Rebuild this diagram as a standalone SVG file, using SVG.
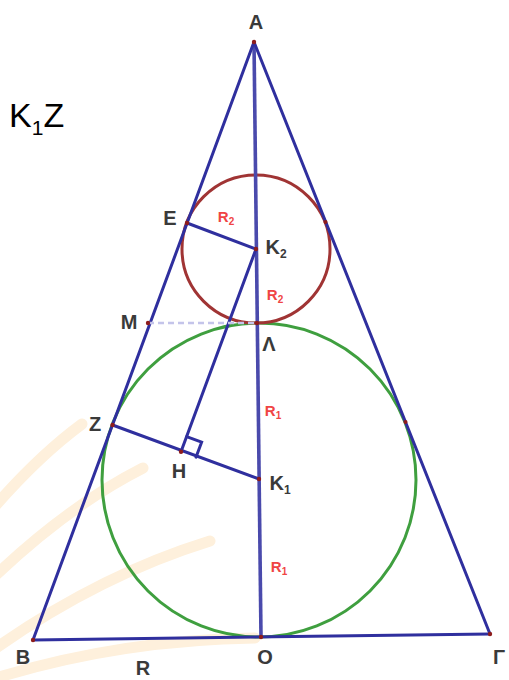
<svg xmlns="http://www.w3.org/2000/svg" width="509" height="680" viewBox="0 0 509 680">
<style>
.wm{fill:none;stroke:#fef0dc;stroke-width:11;stroke-linecap:round}
.ln{fill:none;stroke:#2f2f9e;stroke-width:3;stroke-linecap:round}
.axis{fill:none;stroke:#4a4aac;stroke-width:3.6}
.dash{fill:none;stroke:#c4c4ea;stroke-width:2.5;stroke-dasharray:6 4}
.pt{fill:#8e1c1c}
.lbl{font-family:"Liberation Sans",Arial,sans-serif;font-weight:bold;font-size:20px;fill:#3a3a3a;text-anchor:middle}
.sub{font-size:12px}
.rl{font-family:"Liberation Sans",Arial,sans-serif;font-weight:bold;font-size:15px;fill:#f04444;text-anchor:middle}
.rs{font-size:10px}
.big{font-family:"Liberation Sans",Arial,sans-serif;font-size:34px;fill:#000}
</style>
<rect width="509" height="680" fill="#fff"/>
<g id="watermark">
<path class="wm" d="M-4 505 Q40 455 82 424"/>
<path class="wm" d="M-4 575 Q70 505 143 468"/>
<path class="wm" d="M-4 648 Q100 575 210 541"/>
<path class="wm" d="M-4 678 Q120 640 255 638"/>
</g>
<text class="big" x="9" y="127">K<tspan font-size="21" dy="8">1</tspan><tspan dy="-8">Z</tspan></text>
<g id="circles">
<circle id="circle-K1" cx="259" cy="480" r="157" fill="none" stroke="#3f9f3f" stroke-width="3"/>
<circle id="circle-K2" cx="256" cy="249" r="74" fill="none" stroke="#a03434" stroke-width="3"/>
</g>
<g id="connectors">
<line class="axis" x1="254" y1="42" x2="261" y2="637"/>
<line class="ln" x1="254" y1="42" x2="33" y2="640"/>
<line class="ln" x1="254" y1="42" x2="490" y2="634"/>
<line class="ln" x1="33" y1="640" x2="490" y2="634"/>
<line class="ln" x1="187" y1="223" x2="256" y2="249"/>
<line class="ln" x1="112.5" y1="425" x2="259" y2="479"/>
<line class="ln" x1="256" y1="249" x2="181" y2="451.7"/>
<polyline class="ln" points="186.6,436.7 201.6,442.2 196,457.2" stroke-width="2.5"/>
<line class="dash" x1="148" y1="323" x2="257" y2="323"/>
</g>
<g id="node-A"><circle class="pt" cx="254" cy="42" r="2.2"/><text class="lbl" x="256" y="29">A</text></g>
<g id="node-E"><circle class="pt" cx="187" cy="223" r="2.2"/><text class="lbl" x="170" y="225">E</text></g>
<g id="node-K2"><circle class="pt" cx="256" cy="249" r="2.2"/><text class="lbl" x="276" y="254">K<tspan class="sub" dy="4">2</tspan></text></g>
<g id="node-M"><circle class="pt" cx="148" cy="323" r="2.2"/><text class="lbl" x="129" y="329">M</text></g>
<g id="node-L"><circle class="pt" cx="257" cy="323" r="2.2"/><text class="lbl" x="269" y="351">Λ</text></g>
<g id="node-Z"><circle class="pt" cx="112.5" cy="425" r="2.2"/><text class="lbl" x="95" y="431">Z</text></g>
<g id="node-H"><circle class="pt" cx="181" cy="451.7" r="2.2"/><text class="lbl" x="179" y="478">H</text></g>
<g id="node-K1"><circle class="pt" cx="259" cy="479" r="2.2"/><text class="lbl" x="280" y="490">K<tspan class="sub" dy="4">1</tspan></text></g>
<g id="node-B"><circle class="pt" cx="33" cy="640" r="2.2"/><text class="lbl" x="23" y="664">B</text></g>
<g id="node-O"><circle class="pt" cx="261" cy="637" r="2.2"/><text class="lbl" x="265" y="664">O</text></g>
<g id="node-G"><circle class="pt" cx="490" cy="634" r="2.2"/><text class="lbl" x="499" y="664">Γ</text></g>
<g id="node-T1"><circle class="pt" cx="325.5" cy="222" r="2"/></g>
<g id="node-T2"><circle class="pt" cx="405.5" cy="422" r="2"/></g>
<g id="labels-R">
<text class="rl" x="226" y="222">R<tspan class="rs" dy="3">2</tspan></text>
<text class="rl" x="275" y="300">R<tspan class="rs" dy="3">2</tspan></text>
<text class="rl" x="273" y="416">R<tspan class="rs" dy="3">1</tspan></text>
<text class="rl" x="279" y="572">R<tspan class="rs" dy="3">1</tspan></text>
</g>
<text class="lbl" x="143" y="675">R</text>
</svg>
